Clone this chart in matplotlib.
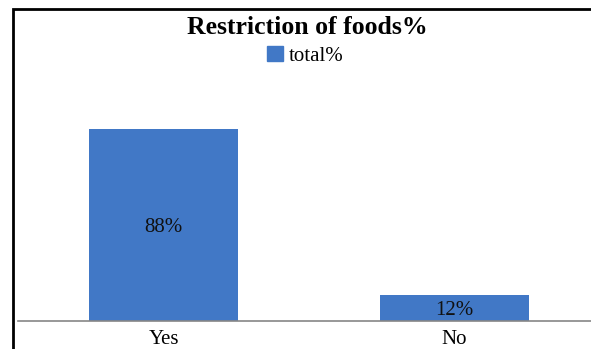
import matplotlib
matplotlib.use("Agg")
import matplotlib.pyplot as plt
from matplotlib.patches import Rectangle, Patch
from matplotlib.transforms import offset_copy

categories = ["Yes", "No"]
values = [88, 12]
labels = ["88%", "12%"]
series_name = "total%"
title = "Restriction of foods%"

W, H = 591, 349
fig = plt.figure(figsize=(W / 100, H / 100), dpi=100)
plt.rcParams['font.family'] = ['Liberation Serif', 'DejaVu Serif']

# axes: x from 18 to 600 px, y from 321 (bottom) to 103 (top)
ax = fig.add_axes([18 / W, (H - 321) / H, (600 - 18) / W, (321 - 103) / H])
ax.set_xlim(-0.5, 1.5)
ax.set_ylim(0, 100)
ax.bar(range(len(categories)), values, width=0.51, color="#4178C6")
tr = offset_copy(ax.transData, fig=fig, x=0, y=-1.5, units="points")
for i, (v, lab) in enumerate(zip(values, labels)):
    ax.text(i, v / 2, lab, ha="center", va="center", fontsize=15, color="#111111", transform=tr)
ax.set_xticks(range(len(categories)))
ax.set_xticklabels(categories, fontsize=15)
ax.tick_params(axis="x", length=0, pad=6.5)
ax.set_yticks([])
for s in ["top", "right", "left"]:
    ax.spines[s].set_visible(False)
ax.spines["bottom"].set_color("#868686")
ax.spines["bottom"].set_linewidth(1.2)
ax.patch.set_visible(False)

fig.text(307 / W, 1 - 28 / H, title, ha="center", va="center", fontsize=18.5, fontweight="bold")

leg = fig.legend(handles=[Patch(color="#4178C6", label=series_name)], loc="center",
                 bbox_to_anchor=(305 / W, 1 - 56 / H), frameon=False, fontsize=15,
                 handlelength=0.77, handleheight=0.72, handletextpad=0.29, borderpad=0)

# outer frame (extends beyond image on right and bottom)
fig.add_artist(Rectangle((12.5 / W, -0.1), 1.2, 1 - 9.5 / H + 0.1, transform=fig.transFigure,
                         fill=False, edgecolor="black", linewidth=2, clip_on=False))

fig.savefig("out.png", dpi=100)
